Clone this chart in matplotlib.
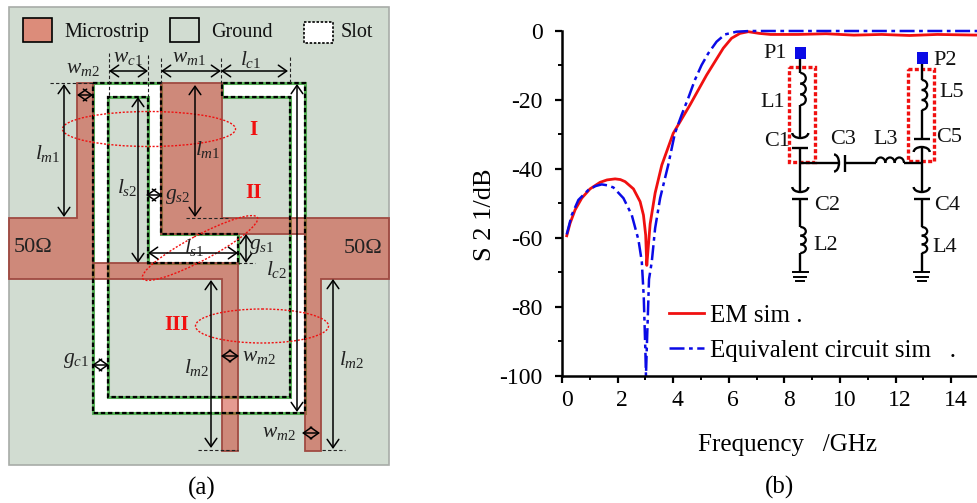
# Filtre microruban (a) et reponse S21 (b)
import numpy as np
import matplotlib
matplotlib.use('Agg')
import matplotlib.pyplot as plt
from matplotlib.patches import Arc, Ellipse, Polygon, Rectangle
from matplotlib.transforms import ScaledTranslation

plt.rcParams['font.family'] = ['Liberation Serif', 'DejaVu Serif']
plt.rcParams['mathtext.fontset'] = 'custom'
plt.rcParams['mathtext.rm'] = 'Liberation Serif'
plt.rcParams['mathtext.it'] = 'Liberation Serif:italic'
plt.rcParams['axes.unicode_minus'] = False

# %% Donnees des courbes
f_em = [0.17, 0.29, 0.47, 0.71, 1.01, 1.37, 1.62, 1.91, 2.1, 2.27, 2.57, 2.81, 2.93, 3.01, 3.05, 3.09, 3.17, 3.35, 3.59,
        4.0, 4.6, 5.2, 5.8, 6.1, 6.4, 6.7, 7.1, 7.5, 8.5, 9.5, 10.5, 11.5, 12.5, 13.5, 15]
s21_em = [-59.4, -55.8, -51.9, -48.5, -45.8, -43.9, -43.2, -42.9, -43.1, -43.7, -45.8, -49.5, -53.4, -59.2, -68, -64, -56, -47, -38.9,
          -29.7, -21.5, -12.8, -5, -2.1, -0.7, -0.2, -0.7, -1.0, -1.0, -0.8, -1.2, -1.0, -1.3, -1.0, -1.2]
f_eq = [0.17, 0.35, 0.59, 0.95, 1.2, 1.43, 1.65, 1.85, 2.21, 2.51, 2.75, 2.87, 2.94, 3.0, 3.02, 3.05, 3.13, 3.23, 3.35, 3.53, 3.82,
        4.06, 4.3, 4.54, 4.78, 5.02, 5.26, 5.56, 5.86, 6.28, 6.76, 8, 10, 12, 15]
s21_eq = [-59, -53.4, -49, -46.1, -45, -44.5, -44.8, -45.4, -48.5, -53.4, -60.6, -66.9, -77, -93, -100, -92, -72, -66.9, -57.2, -48.5, -38.9,
          -29.7, -24.4, -19.5, -14.2, -9.9, -6.5, -3.1, -1, -0.2, 0, 0, 0, 0, 0]
x_ticks = [0, 2, 4, 6, 8, 10, 12, 14]
y_ticks = [0, -20, -40, -60, -80, -100]

# %% Geometrie du filtre, en pixels
board = (9, 7, 380, 458)
strip_left = [(9, 218), (77, 218), (77, 83), (93, 83), (93, 263), (238, 263), (238, 451), (222, 451), (222, 279), (9, 279)]
strip_right = [(161, 83), (222, 83), (222, 218), (389, 218), (389, 279), (321, 279), (321, 451), (305, 451), (305, 234), (161, 234)]
slot = [(93, 83), (161, 83), (161, 234), (238, 234), (238, 263), (148, 263), (148, 97), (108, 97), (108, 397),
        (290, 397), (290, 97), (222, 97), (222, 83), (305, 83), (305, 413), (93, 413)]

arrows = [((77, 95), (93, 95)), ((109, 71), (148, 71)), ((161, 71), (221, 71)), ((221, 71), (288, 71)),
          ((64, 84), (64, 217)), ((195, 85), (195, 217)), ((138, 97), (138, 263)), ((146, 195), (162, 195)),
          ((148, 253), (238, 253)), ((246, 234), (246, 263)), ((297, 84), (297, 412)), ((211, 280), (211, 448)),
          ((221, 356), (239, 356)), ((333, 279), (333, 449)), ((92, 365), (109, 365)), ((302, 433), (320, 433))]
leaders = [((50, 83), (95, 83)), ((108.5, 53), (108.5, 97)), ((148, 55), (148, 97)), ((161, 58), (161, 83)),
           ((221, 58), (221, 83)), ((290, 57), (290, 83)), ((186, 218), (228, 218)), ((238, 263), (255, 263)),
           ((198, 450), (238, 450)), ((322, 450), (345, 450))]
dim_labels = [(83, 68, r'$w_{m\mathrm{2}}$'), (128, 57, r'$w_{c\mathrm{1}}$'), (189, 57, r'$w_{m\mathrm{1}}$'),
              (251, 59, r'$l_{c\mathrm{1}}$'), (48, 153, r'$l_{m\mathrm{1}}$'), (208, 150, r'$l_{m\mathrm{1}}$'),
              (127, 188, r'$l_{s\mathrm{2}}$'), (178, 196, r'$g_{s\mathrm{2}}$'), (194, 248, r'$l_{s\mathrm{1}}$'),
              (262, 246, r'$g_{s\mathrm{1}}$'), (277, 270, r'$l_{c\mathrm{2}}$'), (197, 367, r'$l_{m\mathrm{2}}$'),
              (259, 357, r'$w_{m\mathrm{2}}$'), (352, 360, r'$l_{m\mathrm{2}}$'), (76, 361, r'$g_{c\mathrm{1}}$'),
              (279, 432, r'$w_{m\mathrm{2}}$')]
ellipses = [(149, 129, 173, 35, 0), (200, 248, 130, 25, -28), (262, 326, 133, 34, 0)]
region_labels = [(253, 130, 'I'), (254, 193, 'II'), (177, 325, 'III')]

# %% Schema equivalent, en pixels
x_l = 800.3
x_r = 921.7
wires = [((x_l, 59), (x_l, 73)), ((x_l, 105), (x_l, 138)), ((x_l, 148), (x_l, 192)), ((x_l, 199), (x_l, 227)),
         ((x_l, 253), (x_l, 272)), ((x_r, 64), (x_r, 80)), ((x_r, 110), (x_r, 139)), ((x_r, 147), (x_r, 192)),
         ((x_r, 199), (x_r, 227)), ((x_r, 253), (x_r, 272)), ((x_l, 163), (839, 163)), ((845, 163), (876, 163)),
         ((904, 163), (x_r, 163))]
plates = [((x_l - 8, 148), (x_l + 8, 148)), ((x_l - 8, 199), (x_l + 8, 199)), ((x_r - 8, 139), (x_r + 8, 139)),
          ((x_r - 8, 199), (x_r + 8, 199)), ((845, 155), (845, 172))]
coils_v = [(x_l, 73, 105), (x_l, 227, 253), (x_r, 80, 110), (x_r, 227, 253)]
smiles = [(x_l, 133), (x_l, 187), (x_r, 187)]
frowns = [(x_r, 152)]
ports = [(800.5, 53), (922.5, 58)]
red_boxes = [(789, 67, 26, 95), (908, 69, 26, 92)]
grounds = [x_l, x_r]
circuit_labels = [(775, 53, 'P1'), (945, 60, 'P2'), (773, 102, 'L1'), (952, 92, 'L5'), (777, 141, 'C1'),
                  (949, 138, 'C5'), (843, 140, 'C3'), (886, 139, 'L3'), (827, 205, 'C2'), (947, 205, 'C4'),
                  (826, 246, 'L2'), (945, 247, 'L4')]

fig = plt.figure(figsize=(9.77, 5.03), dpi=100)

# %% Panneau (b)
ax = fig.add_axes([562 / 977, 1 - 375.7 / 503, 415 / 977, 344.7 / 503])
ax.plot(f_em, s21_em, color='#f01010', lw=2, label='EM sim .', clip_on=False)
ax.plot(f_eq, s21_eq, color='#0a0ae6', lw=1.8, ls=(0, (6, 1.8, 1.5, 1.8)), label='Equivalent circuit sim   .', clip_on=False)
ax.set_xlim(0, 415 / 27.8)
ax.set_ylim(-100, 0)
ax.set_xticks(x_ticks)
ax.set_yticks(y_ticks)
ax.set_xticks(np.arange(1, 15, 2), minor=True)
ax.set_yticks(np.arange(-90, 0, 20), minor=True)
ax.tick_params(which='major', direction='out', length=5, width=1.6, labelsize=17)
ax.tick_params(axis='y', which='major', pad=9)
ax.tick_params(axis='x', which='major', pad=5.5)
ax.tick_params(which='minor', direction='out', length=3, width=1.4)
# les chiffres de l'axe x sont decales a droite des graduations
shift = ScaledTranslation(4.5 / 100, 0, fig.dpi_scale_trans)
for lab in ax.get_xticklabels():
    lab.set_transform(lab.get_transform() + shift)
ax.spines['top'].set_visible(False)
ax.spines['right'].set_visible(False)
ax.spines['left'].set_linewidth(1.8)
ax.spines['bottom'].set_linewidth(1.8)
ax.patch.set_alpha(0)
ax.legend(loc='lower left', bbox_to_anchor=(0.243, 0.022), frameon=False, fontsize=18, handlelength=1.4,
          handletextpad=0.25, labelspacing=0.5, borderpad=0.1, borderaxespad=0.15)

# %% Calque en pixels pour le reste
ov = fig.add_axes([0, 0, 1, 1], zorder=-1)
ov.set_xlim(0, 977)
ov.set_ylim(503, 0)
ov.axis('off')
top = fig.add_axes([0, 0, 1, 1], zorder=5)
top.set_xlim(0, 977)
top.set_ylim(503, 0)
top.axis('off')

ov.add_patch(Rectangle(board[:2], board[2], board[3], fc='#d1dcd1', ec='#a8aca8', lw=1.2))
ov.add_patch(Polygon(slot, closed=True, fc='white', ec='#58b058', lw=2.2))
for poly in (strip_left, strip_right):
    ov.add_patch(Polygon(poly, closed=True, fc=(0.80, 0.22, 0.14, 0.5), ec='#a04a42', lw=1.3))
ov.add_patch(Polygon(slot, closed=True, fill=False, ec='black', lw=1.6, ls=(0, (2, 1.2))))

# legende du panneau (a)
ov.add_patch(Rectangle((23, 18), 29, 24, fc='#dc8c7a', ec='black', lw=1.2))
ov.add_patch(Rectangle((170, 18), 29, 24, fc='#d1dcd1', ec='black', lw=1.2))
ov.add_patch(Rectangle((304, 22), 29, 21, fc='white', ec='black', lw=1.2, ls=(0, (1.5, 1))))
for x, label in [(64, 'Microstrip'), (211, 'Ground'), (341, 'Slot')]:
    ov.text(x, 32, label, fontsize=14.5, va='center', color='#111111')

for a, b in leaders:
    ov.plot([a[0], b[0]], [a[1], b[1]], color='#222222', lw=0.8, ls=(0, (3, 2)))
for a, b in arrows:
    ov.annotate('', xy=a, xytext=b, arrowprops=dict(arrowstyle='<->,head_length=0.6,head_width=0.42', color='black',
                                                    lw=1.1, shrinkA=0, shrinkB=0))
for x, y, label in dim_labels:
    ov.text(x, y, label, fontsize=15.5, ha='center', va='center', color='#222222')
for x, y, w, h, angle in ellipses:
    ov.add_patch(Ellipse((x, y), w, h, angle=angle, fill=False, ec='#f01010', lw=1, ls=(0, (1.5, 1.2))))
for x, y, label in region_labels:
    ov.text(x, y, label, fontsize=15, weight='bold', color='#f01010', ha='center', va='center')
ov.text(33, 247, '50Ω', fontsize=16, ha='center', va='center', color='#222222')
ov.text(363, 248, '50Ω', fontsize=16, ha='center', va='center', color='#222222')

# schema
for a, b in wires + plates:
    top.plot([a[0], b[0]], [a[1], b[1]], color='black', lw=1.7, solid_capstyle='butt')
for x, y0, y1 in coils_v:
    ys = np.linspace(y0, y1, 4)
    for y_a, y_b in zip(ys[:-1], ys[1:]):
        top.add_patch(Arc((x, (y_a + y_b) / 2), 11, y_b - y_a, theta1=-90, theta2=90, color='black', lw=1.6))
xs = np.linspace(876, 904, 4)
for x_a, x_b in zip(xs[:-1], xs[1:]):
    top.add_patch(Arc(((x_a + x_b) / 2, 163), x_b - x_a, 11, theta1=180, theta2=360, color='black', lw=1.6))
for x, y in smiles:
    top.add_patch(Arc((x, y), 16, 10, theta1=0, theta2=180, color='black', lw=1.7))
for x, y in frowns:
    top.add_patch(Arc((x, y), 16, 10, theta1=180, theta2=360, color='black', lw=1.7))
top.add_patch(Arc((834, 163), 10, 17, theta1=-90, theta2=90, color='black', lw=1.7))
for x, y in ports:
    top.add_patch(Rectangle((x - 5.5, y - 6), 11, 12, fc='#0a0ae6', ec='none'))
for x, y, w, h in red_boxes:
    top.add_patch(Rectangle((x, y), w, h, fill=False, ec='#f01010', lw=2.4, ls=(0, (1.2, 0.7))))
for x in grounds:
    for y, half in [(272, 7.5), (276.5, 6), (281, 4)]:
        top.plot([x - half, x + half], [y, y], color='black', lw=1.4)
for x, y, label in circuit_labels:
    top.text(x, y, label, fontsize=16, ha='center', va='center', color='#111111')

# titres
top.text(202, 488, '(a)', fontsize=18, ha='center', va='center')
top.text(780, 487, '(b)', fontsize=18, ha='center', va='center')
top.text(788, 445, 'Frequency   /GHz', fontsize=18, ha='center', va='center')
top.text(485, 215, 'S 2 1/dB', fontsize=19, rotation=90, ha='center', va='center')

fig.savefig('out.png', dpi=100)
